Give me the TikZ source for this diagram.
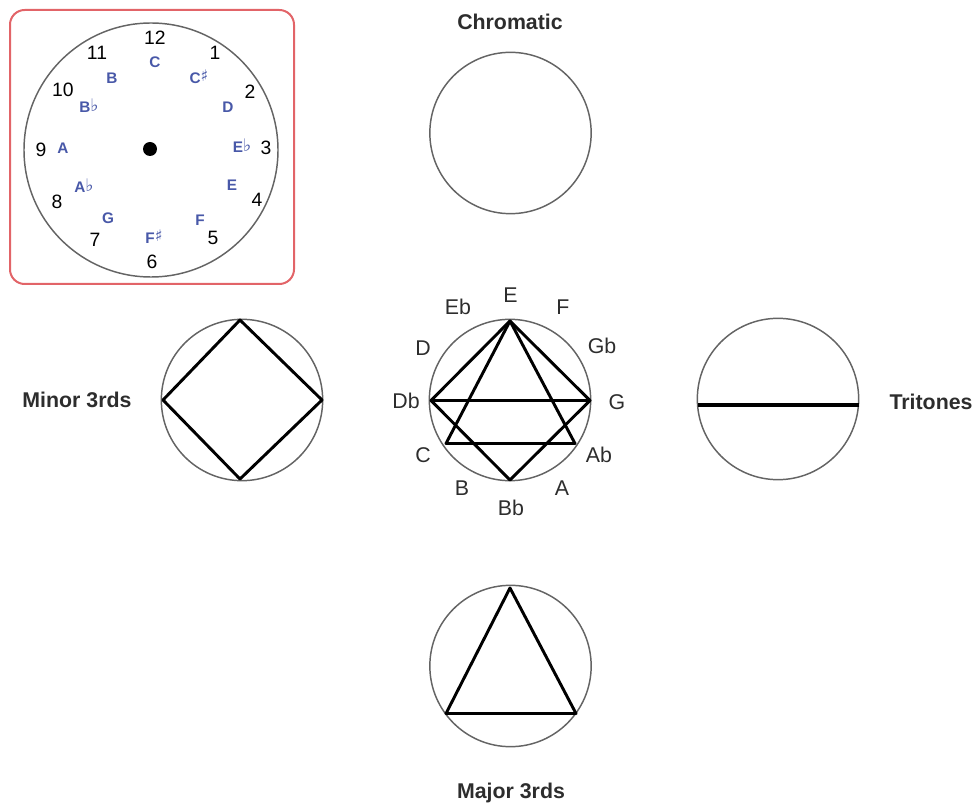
\documentclass[tikz,border=0pt]{standalone}
\usepackage{fontspec}
\setmainfont{Liberation Sans}
\newfontfamily\symfont{DejaVu Sans}
\newcommand{\myflat}{{\symfont\fontsize{13}{13}\selectfont\raisebox{1pt}{♭}}}
\newcommand{\mysharp}{{\symfont\fontsize{12}{12}\selectfont\raisebox{1.5pt}{♯}}}
\definecolor{boxred}{RGB}{226,100,104}
\definecolor{noteblue}{RGB}{72,88,168}
\definecolor{ringgray}{RGB}{100,100,100}
\definecolor{labelgray}{RGB}{45,45,45}
\begin{document}
\begin{tikzpicture}[x=0.75pt,y=-0.75pt,
  ring/.style={circle,draw=ringgray,line width=1.1pt,inner sep=0pt,minimum size=121pt},
  chord/.style={draw=black,line width=2.2pt,line join=round,line cap=round},
  title/.style={font=\fontsize{16}{18}\selectfont\bfseries,text=labelgray},
  notename/.style={font=\fontsize{16}{18}\selectfont,text=labelgray},
  hour/.style={font=\fontsize{14.5}{16}\selectfont,text=black},
  pitch/.style={font=\fontsize{11.5}{13}\selectfont\bfseries,text=noteblue,inner sep=0pt}]
\useasboundingbox (0,0) rectangle (978,805);

% ---------- clock panel ----------
\node[draw=boxred,line width=1.5pt,rounded corners=11pt,minimum width=213pt,minimum height=205.5pt,inner sep=0pt] (panel) at (152,147) {};
\node[ring,minimum size=190.5pt] (clock) at (151,150) {};
\node[circle,fill=black,inner sep=0pt,minimum size=10.5pt] (hub) at (150,149) {};

\node[hour] (h12) at (155,38) {12};
\node[hour] (h1) at (215,53) {1};
\node[hour] (h2) at (250,92) {2};
\node[hour] (h3) at (266,148) {3};
\node[hour] (h4) at (257,200) {4};
\node[hour] (h5) at (213,238) {5};
\node[hour] (h6) at (152,262) {6};
\node[hour] (h7) at (95,240) {7};
\node[hour] (h8) at (57,202) {8};
\node[hour] (h9) at (41,150) {9};
\node[hour] (h10) at (63,90) {10};
\node[hour] (h11) at (97,53) {11};

\node[pitch] (pC) at (155,62) {C};
\node[pitch] (pCs) at (199,77) {C\mysharp};
\node[pitch] (pD) at (228,107) {D};
\node[pitch] (pEb) at (242,146) {E\myflat};
\node[pitch] (pE) at (232,185) {E};
\node[pitch] (pF) at (200,220) {F};
\node[pitch] (pFs) at (154,237) {F\mysharp};
\node[pitch] (pG) at (108,218) {G};
\node[pitch] (pAb) at (84,186) {A\myflat};
\node[pitch] (pA) at (63,148) {A};
\node[pitch] (pBb) at (89,106) {B\myflat};
\node[pitch] (pB) at (112,78) {B};

% ---------- chromatic ----------
\node[title] (tchrom) at (510,22) {Chromatic};
\node[ring] (chrom) at (510.5,133) {};

% ---------- minor thirds ----------
\node[title] (tminor) at (77,400) {Minor 3rds};
\node[ring] (minor) at (242,400) {};
\coordinate (m1) at (240,320);
\coordinate (m2) at (322,400);
\coordinate (m3) at (240,479);
\coordinate (m4) at (163,400);
\draw[chord] (m1) -- (m2) -- (m3) -- (m4) -- cycle;

% ---------- combined centre ----------
\node[ring] (centre) at (510,400) {};
\coordinate (vE) at (510,321);
\coordinate (vDb) at (431,400.5);
\coordinate (vG) at (590,400.5);
\coordinate (vBb) at (510,480);
\coordinate (vC) at (446,443.5);
\coordinate (vAb) at (575,443.5);
\draw[chord] (vE) -- (vDb) -- (vBb) -- (vG) -- cycle;
\draw[chord] (vE) -- (vC) -- (vAb) -- cycle;
\draw[chord] (vDb) -- (vG);

\node[notename] (lE) at (510.5,295) {E};
\node[notename] (lEb) at (458,307) {Eb};
\node[notename] (lF) at (563,307) {F};
\node[notename] (lD) at (423,348) {D};
\node[notename] (lGb) at (602,346) {Gb};
\node[notename] (lDb) at (406,401) {Db};
\node[notename] (lG) at (617,402) {G};
\node[notename] (lC) at (423,455) {C};
\node[notename] (lAb) at (599,455) {Ab};
\node[notename] (lB) at (462,488) {B};
\node[notename] (lA) at (562,488) {A};
\node[notename] (lBb) at (511,508) {Bb};

% ---------- tritones ----------
\node[ring] (trit) at (778,399) {};
\coordinate (t1) at (698,405);
\coordinate (t2) at (859,405);
\draw[chord,line width=2.7pt,line cap=butt] (t1) -- (t2);
\node[title] (ttrit) at (931,402) {Tritones};

% ---------- major thirds ----------
\node[ring] (major) at (510.5,666) {};
\coordinate (j1) at (510,588);
\coordinate (j2) at (576,713.5);
\coordinate (j3) at (446,713.5);
\draw[chord] (j1) -- (j2) -- (j3) -- cycle;
\node[title] (tmajor) at (511,793) {Major 3rds};
\end{tikzpicture}
\end{document}
